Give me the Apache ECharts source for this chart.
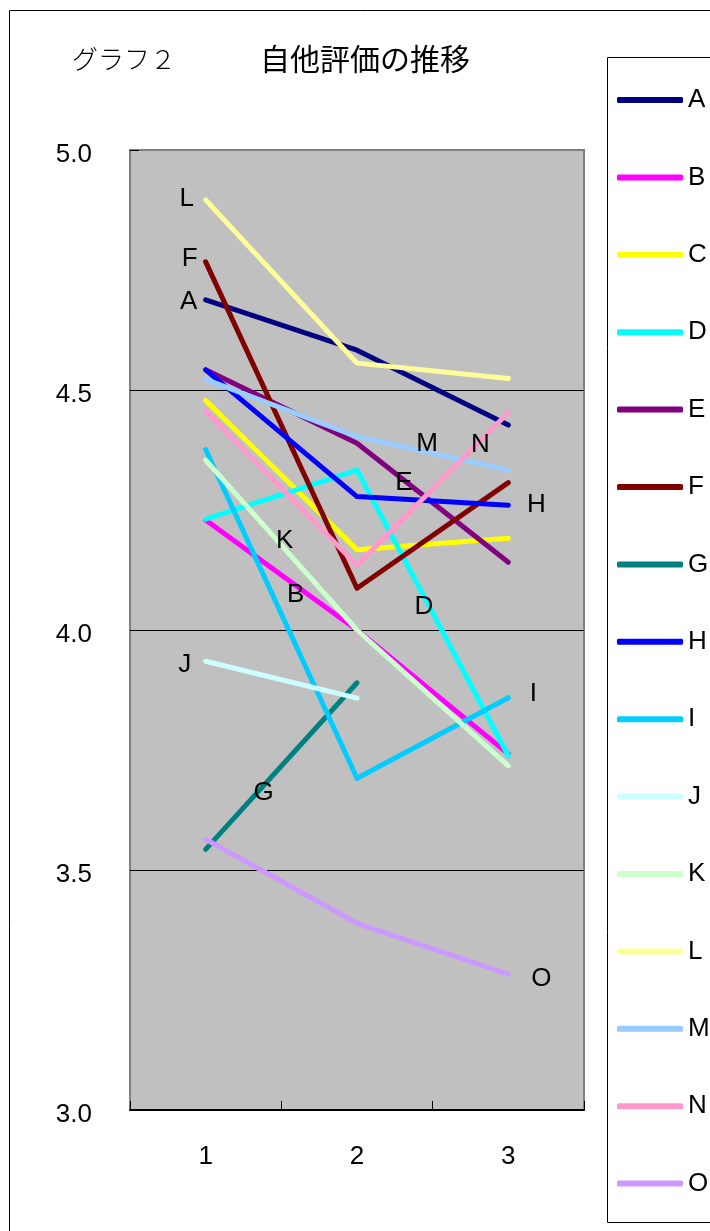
<!DOCTYPE html>
<html><head><meta charset="utf-8">
<script src="https://cdn.jsdelivr.net/npm/echarts@6/dist/echarts.min.js"></script>
<style>html,body{margin:0;padding:0;background:#fff}#c{width:710px;height:1231px}</style>
</head><body><div id="c"></div>
<script>
const categories = ['1', '2', '3'];
const seriesNames = ['A','B','C','D','E','F','G','H','I','J','K','L','M','N','O'];
const A = [4.688, 4.583, 4.427];
const B = [4.229, 4.000, 3.742];
const C = [4.478, 4.167, 4.191];
const D = [4.231, 4.333, 3.738];
const E = [4.542, 4.389, 4.141];
const F = [4.767, 4.087, 4.307];
const G = [3.543, 3.890];
const H = [4.542, 4.278, 4.260];
const I = [4.376, 3.691, 3.859];
const J = [3.935, 3.858];
const K = [4.354, 4.000, 3.717];
const L = [4.896, 4.556, 4.524];
const M = [4.522, 4.403, 4.333];
const N = [4.457, 4.135, 4.453];
const O = [3.564, 3.389, 3.283];
const yTicks = [3.0, 3.5, 4.0, 4.5, 5.0];

const values = {A,B,C,D,E,F,G,H,I,J,K,L,M,N,O};
const colors = {A:'#000080',B:'#FF00FF',C:'#FFFF00',D:'#00FFFF',E:'#800080',F:'#800000',G:'#008080',
  H:'#0000FF',I:'#00CCFF',J:'#CCFFFF',K:'#CCFFCC',L:'#FFFF99',M:'#99CCFF',N:'#FF99CC',O:'#CC99FF'};
// [point index the label is attached to, dx, dy]
const labelPlace = {A:[0,-17,2],B:[0,90,75],D:[1,67,137],E:[1,47,40],F:[0,-16,-3],G:[0,58,-57],
  H:[2,28,0],I:[2,25,-4],J:[0,-21,4],K:[0,79,81],L:[0,-19,-1],M:[1,70,7],N:[2,-28,32],O:[2,33,5]};

const FONT = 'Liberation Sans, Arial, sans-serif';
const series = seriesNames.map(n => {
  const lp = labelPlace[n];
  return {
    name: n, type: 'line', color: colors[n],
    symbol: 'circle', symbolSize: 0, showSymbol: true,
    lineStyle: {width: 5, cap: 'round', join: 'round', color: colors[n]},
    itemStyle: {color: colors[n]},
    emphasis: {disabled: true},
    animation: false,
    data: values[n].map((v, i) => (lp && lp[0] === i) ? {
      value: v,
      label: {show: true, position: 'inside', offset: [lp[1], lp[2]], formatter: n,
        color: '#000', fontSize: 26, fontFamily: FONT}
    } : v)
  };
});

const chart = echarts.init(document.getElementById('c'), null, {renderer: 'canvas'});
chart.setOption({
  animation: false,
  backgroundColor: '#fff',
  grid: {left: 130, top: 150, width: 454, height: 960, show: true,
    backgroundColor: '#C0C0C0', borderColor: '#808080', borderWidth: 2},
  xAxis: {
    type: 'category', data: categories, boundaryGap: true,
    axisLine: {lineStyle: {color: '#000', width: 2}},
    axisTick: {show: true, inside: true, length: 9, lineStyle: {color: '#000', width: 1}},
    axisLabel: {color: '#000', fontSize: 26, fontFamily: FONT, margin: 34},
    splitLine: {show: false}
  },
  yAxis: {
    type: 'value', min: 3, max: 5, interval: 0.5,
    axisLine: {show: true, lineStyle: {color: '#808080', width: 2}},
    axisTick: {show: true, inside: true, length: 9, lineStyle: {color: '#000', width: 1}},
    axisLabel: {color: '#000', fontSize: 26, fontFamily: FONT, margin: 38,
      formatter: v => (yTicks.includes(v) ? '{t|' + v.toFixed(1) + '}' : ''),
      rich: {t: {color: '#000', fontSize: 26, fontFamily: FONT, padding: [10, 0, 0, 0]}}},
    splitLine: {show: true, lineStyle: {color: ['transparent', '#000', '#000', '#000', 'transparent'], width: 1}}
  },
  legend: {
    orient: 'vertical', left: 612, top: 82, itemWidth: 66, itemHeight: 6, itemGap: 51.4,
    icon: 'roundRect', data: seriesNames,
    textStyle: {color: '#000', fontSize: 26, fontFamily: FONT, lineHeight: 26, padding: [0,0,0,0]}
  },
  graphic: [
    {type: 'rect', shape: {x: 9.5, y: 10.5, width: 760, height: 1260}, style: {fill: 'none', stroke: '#000', lineWidth: 1}, silent: true, z: -10},
    {type: 'rect', shape: {x: 607.5, y: 57.5, width: 200, height: 1165}, style: {fill: '#fff', stroke: '#000', lineWidth: 1}, silent: true, z: -5},
    {type: 'text', left: 72, top: 46, style: {text: 'グラフ２', fontSize: 26, fontFamily: 'Noto Sans CJK JP', fontWeight: 300, fill: '#000'}},
    {type: 'text', left: 260, top: 44, style: {text: '自他評価の推移', fontSize: 30, fontFamily: 'Noto Sans CJK JP', fontWeight: 'normal', fill: '#000'}}
  ],
  series: series
});
</script>
</body></html>
